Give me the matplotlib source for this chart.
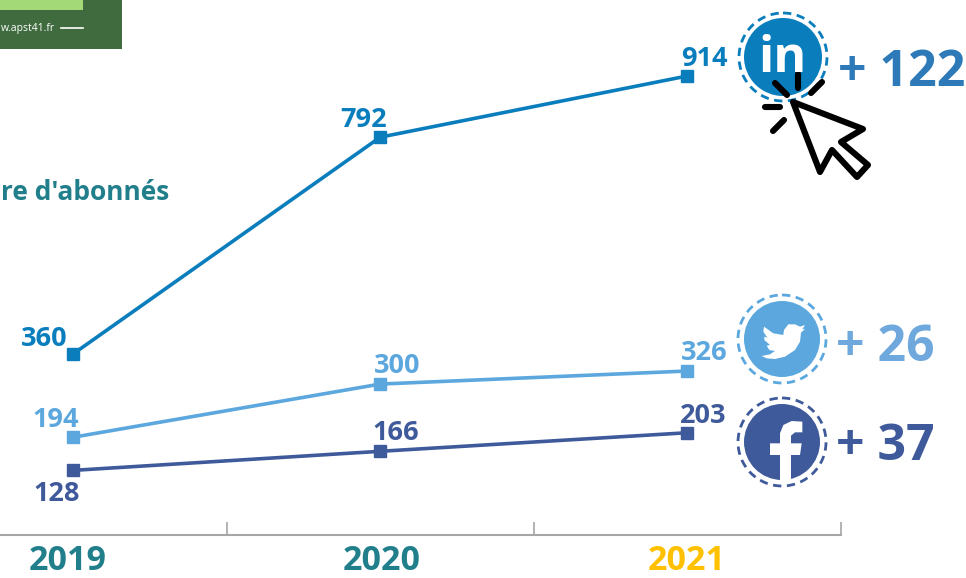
import matplotlib
matplotlib.use("Agg")
import matplotlib.pyplot as plt
from matplotlib.patches import Circle, Polygon, Rectangle
from matplotlib.transforms import ScaledTranslation

plt.rcParams["font.family"] = ["Open Sans", "DejaVu Sans"]
plt.rcParams["font.weight"] = "bold"

years = ["2019", "2020", "2021"]
linkedin = [360, 792, 914]
twitter = [194, 300, 326]
facebook = [128, 166, 203]
gains = ["+ 122", "+ 26", "+ 37"]
year_colors = ["#217f8c", "#217f8c", "#ffc000"]

LINKEDIN_C = "#0a7dbd"
TWITTER_C = "#5ca8de"
FACEBOOK_C = "#3f5a9b"
W, H = 966, 578

fig = plt.figure(figsize=(W / 100, H / 100), dpi=100, facecolor="white")

# main chart, placed so that the category slots run past the left edge
left = -80.5
right = 841
base = 534.6
ax = fig.add_axes([left / W, (H - base) / H, (right - left) / W, base / H])
ax.set_xlim(-0.5, 2.5)
ax.set_ylim(0, base / 0.5018)
ax.patch.set_alpha(0)

series = [
    (linkedin, LINKEDIN_C, [(-29, 15), (-17, 17), (17, 17)]),
    (twitter, TWITTER_C, [(-17, 17), (17, 18), (17, 18)]),
    (facebook, FACEBOOK_C, [(-16, -24), (16, 18), (16, 17)]),
]
for values, color, offsets in series:
    ax.plot(range(3), values, color=color, lw=2.6, marker="s", ms=8.5, clip_on=False)
    for i, v in enumerate(values):
        ax.annotate(str(v), (i, v), xytext=(offsets[i][0] * 0.72, offsets[i][1] * 0.72),
                    textcoords="offset points", ha="center", va="center",
                    fontsize=19.5, color=color)

for s in ["top", "left", "right"]:
    ax.spines[s].set_visible(False)
ax.spines["bottom"].set_color("#a6a6a6")
ax.spines["bottom"].set_linewidth(1.5)
ax.set_yticks([])
ax.set_xticks([0, 1, 2])
ax.set_xticklabels(years, fontsize=24.5)
ax.tick_params(axis="x", which="major", length=0, pad=7)
year_shift = [-5, 1, -1]
for lab, c, dx in zip(ax.get_xticklabels(), year_colors, year_shift):
    lab.set_color(c)
    lab.set_transform(lab.get_transform() + ScaledTranslation(dx / 100, 0, fig.dpi_scale_trans))
ax.set_xticks([-0.5, 0.5, 1.5, 2.5], minor=True)
ax.tick_params(axis="x", which="minor", direction="in", length=9.5, width=1.2, color="#a6a6a6")

# overlay in pixel coordinates for the logo strip and the icons
ov = fig.add_axes([0, 0, 1, 1])
ov.set_xlim(0, W)
ov.set_ylim(H, 0)
ov.axis("off")

ov.add_patch(Rectangle((0, 0), 122, 49, color="#3f6b3f", lw=0))
ov.add_patch(Rectangle((0, 0), 83, 10, color="#a3d977", lw=0))
ov.text(1, 28, "w.apst41.fr", color="white", fontsize=7.5, ha="left", va="center", fontweight="normal")
ov.plot([61, 83], [28, 28], color="white", lw=1.2)
ov.text(1, 193, "re d'abonnés", color="#217f8c", fontsize=19, ha="left", va="center")


def badge(cx, cy, r, color):
    ov.add_patch(Circle((cx, cy), r, color=color, lw=0))
    ov.add_patch(Circle((cx, cy), 44, fill=False, ec=color, lw=2, ls=(0, (3, 2))))


def zoomed(points, x0, y0):
    return [(x0 + x / 3, y0 + y / 3) for x, y in points]


badge(783, 57, 39, LINKEDIN_C)
badge(782, 339, 38, TWITTER_C)
badge(782, 442, 38, FACEBOOK_C)

ov.text(783, 59, "in", color="white", fontsize=36, ha="center", va="center")

bird = [(205, 118), (225, 118), (240, 125), (255, 120), (247, 133), (255, 132), (243, 143),
        (240, 170), (225, 195), (195, 215), (165, 222), (140, 220), (125, 213), (150, 208),
        (165, 198), (148, 195), (140, 182), (150, 180), (133, 165), (133, 155), (142, 158),
        (130, 140), (132, 125), (160, 145), (190, 150), (192, 135)]
ov.add_patch(Polygon(zoomed(bird, 720, 285), color="white", lw=0))

f_glyph = [(180, 585), (180, 510), (150, 510), (150, 475), (180, 475), (180, 445), (190, 420),
           (215, 408), (247, 410), (247, 442), (225, 442), (213, 452), (213, 475), (245, 475),
           (240, 510), (213, 510), (213, 585)]
ov.add_patch(Polygon(zoomed(f_glyph, 720, 285), color="white", lw=0))

# cursor and click marks
cursor = [(793, 102), (863, 129), (841, 142), (868, 165), (857, 177), (832, 150), (820, 172)]
ov.add_patch(Polygon(cursor, fc="white", ec="black", lw=4.4, joinstyle="round"))
clicks = [((775, 83), (787, 95)), ((798, 74), (798, 88)), ((822, 82), (811, 93)),
          ((765, 107), (780, 107)), ((773, 131), (784, 120))]
for a, b in clicks:
    ov.plot([a[0], b[0]], [a[1], b[1]], color="black", lw=4.4, solid_capstyle="round")

ov.text(838, 73, gains[0], color="#2e7ab8", fontsize=36, ha="left", va="center")
ov.text(836, 348, gains[1], color="#6fa8dc", fontsize=36, ha="left", va="center")
ov.text(836, 447, gains[2], color=FACEBOOK_C, fontsize=36, ha="left", va="center")

fig.savefig("out.png", dpi=100)
